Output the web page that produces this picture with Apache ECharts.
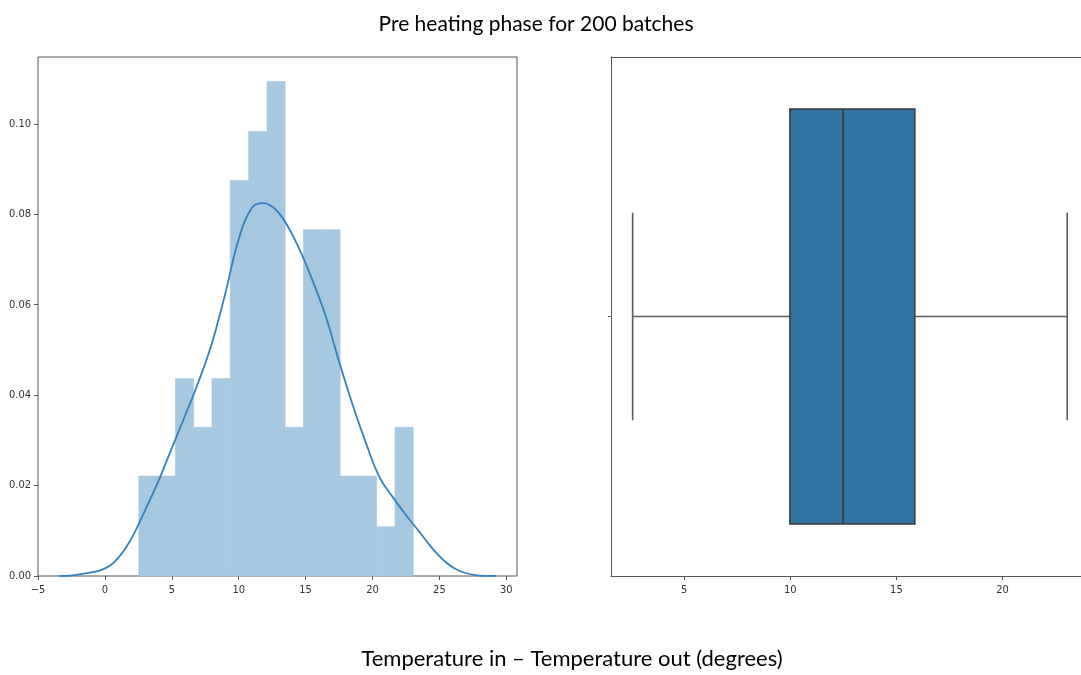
<!DOCTYPE html>
<html><head><meta charset="utf-8">
<script src="https://cdn.jsdelivr.net/npm/echarts@6/dist/echarts.min.js"></script>
<style>html,body{margin:0;padding:0;background:#fff}#c{width:1081px;height:675px}</style>
</head><body><div id="c"></div>
<script>
// ---- data ----
const titleText = 'Pre heating phase for 200 batches';
const xAxisTitle = 'Temperature in \u2013 Temperature out (degrees)';
const binEdges = [2.53, 3.90, 5.27, 6.63, 8.00, 9.37, 10.74, 12.11, 13.47, 14.84, 16.21, 17.58, 18.95, 20.31, 21.68, 23.05];
const binDensity = [0.0221, 0.0221, 0.0437, 0.0329, 0.0437, 0.0875, 0.0983, 0.1094, 0.0329, 0.0766, 0.0766, 0.0221, 0.0221, 0.0109, 0.0329];
const kdeX = [-3.4, -2.6, -1.8, -1.0, -0.3, 0.4, 1.0, 1.6, 2.2, 3.0, 4.0, 5.0, 6.0, 7.0, 8.0, 9.0, 10.0, 11.0, 11.8, 12.6, 13.5, 14.5, 15.5, 16.5, 17.5, 18.5, 19.5, 20.5, 21.5, 22.5, 23.5, 24.5, 25.5, 26.5, 27.7, 29.2];
const kdeY = [0.0000, 0.0001, 0.0004, 0.0008, 0.0013, 0.0023, 0.0040, 0.0064, 0.0095, 0.0145, 0.0210, 0.0283, 0.0355, 0.0430, 0.0515, 0.0625, 0.0745, 0.0815, 0.0825, 0.0815, 0.0782, 0.0725, 0.0655, 0.0575, 0.0475, 0.0380, 0.0295, 0.0220, 0.0175, 0.0135, 0.0098, 0.0060, 0.0030, 0.0011, 0.0002, 0.0000];
const boxStats = [2.57, 9.98, 12.49, 15.87, 23.05]; // min, q1, median, q3, max
const histXTicks = [-5, 0, 5, 10, 15, 20, 25, 30];
const histYTicks = [0, 0.02, 0.04, 0.06, 0.08, 0.10];
const boxXTicks = [5, 10, 15, 20];

const tickFont = "'DejaVu Sans Condensed', 'Liberation Sans Narrow', 'DejaVu Sans', sans-serif";
const frameColor = '#555';
const tickColor = '#555';

const chart = echarts.init(document.getElementById('c'), null, {renderer: 'canvas'});

const histData = binDensity.map((d, i) => [binEdges[i], binEdges[i + 1], d]);
const kdeData = kdeX.map((x, i) => [x, kdeY[i]]);

const axisLabelBase = {color: '#333', fontFamily: tickFont, fontSize: 11};
const frameLine = {show: true, onZero: false, lineStyle: {color: frameColor, width: 1}};

chart.setOption({
  animation: false,
  backgroundColor: '#fff',
  grid: [
    {left: 38, top: 57, width: 479, height: 519, show: true, borderColor: frameColor, borderWidth: 1, backgroundColor: 'transparent'},
    {left: 611, top: 57, right: 0, height: 519, show: false}
  ],
  xAxis: [
    {type: 'value', gridIndex: 0, min: -5, max: 30.8, splitLine: {show: false}, axisLine: {show: false, onZero: false},
     axisTick: {show: true, length: 4, lineStyle: {color: tickColor}, customValues: histXTicks},
     axisLabel: Object.assign({margin: 9, customValues: histXTicks, formatter: v => String(v).replace('-', '\u2212')}, axisLabelBase)},
    {type: 'value', gridIndex: 1, min: 1.55, max: 23.70, splitLine: {show: false}, axisLine: frameLine,
     axisTick: {show: true, length: 4, lineStyle: {color: tickColor}, customValues: boxXTicks},
     axisLabel: Object.assign({margin: 9, customValues: boxXTicks}, axisLabelBase)},
    {type: 'value', gridIndex: 1, position: 'top', min: 1.55, max: 23.70, splitLine: {show: false}, axisLine: frameLine,
     axisTick: {show: false}, axisLabel: {show: false}}
  ],
  yAxis: [
    {type: 'value', gridIndex: 0, min: 0, max: 0.1148, splitLine: {show: false}, axisLine: {show: false, onZero: false},
     axisTick: {show: true, length: 4, lineStyle: {color: tickColor}, customValues: histYTicks},
     axisLabel: Object.assign({margin: 7, customValues: histYTicks, formatter: v => v.toFixed(2)}, axisLabelBase)},
    {type: 'category', gridIndex: 1, data: [''], axisLine: frameLine,
     axisTick: {show: true, alignWithLabel: true, length: 3, lineStyle: {color: tickColor}},
     axisLabel: {show: false}, splitLine: {show: false}}
  ],
  series: [
    {
      type: 'custom', xAxisIndex: 0, yAxisIndex: 0, data: histData, encode: {x: [0, 1], y: 2}, z: 2,
      renderItem: function (params, api) {
        const p0 = api.coord([api.value(0), api.value(2)]);
        const p1 = api.coord([api.value(1), 0]);
        return {type: 'rect', shape: {x: p0[0], y: p0[1], width: p1[0] - p0[0], height: p1[1] - p0[1]},
                style: {fill: '#a6c8e1', stroke: '#a6c8e1', lineWidth: 0.6}};
      }
    },
    {
      type: 'line', xAxisIndex: 0, yAxisIndex: 0, data: kdeData, smooth: 0.4, symbol: 'none', z: 3,
      lineStyle: {color: '#3581be', width: 1.8}
    },
    {
      type: 'custom', xAxisIndex: 1, yAxisIndex: 1, data: [[0].concat(boxStats)], encode: {x: [1, 2, 3, 4, 5], y: 0}, z: 3,
      renderItem: function (params, api) {
        const cat = api.value(0);
        const band = api.size([0, 1])[1];
        const pMin = api.coord([api.value(1), cat]);
        const pQ1 = api.coord([api.value(2), cat]);
        const pMed = api.coord([api.value(3), cat]);
        const pQ3 = api.coord([api.value(4), cat]);
        const pMax = api.coord([api.value(5), cat]);
        const cy = pMed[1];
        const hb = band * 0.4, hc = band * 0.2;
        const edge = '#3a3a3a', wcol = '#5e5e5e';
        return {type: 'group', children: [
          {type: 'line', shape: {x1: pMin[0], y1: cy, x2: pQ1[0], y2: cy}, style: {stroke: wcol, lineWidth: 1.6}},
          {type: 'line', shape: {x1: pQ3[0], y1: cy, x2: pMax[0], y2: cy}, style: {stroke: wcol, lineWidth: 1.6}},
          {type: 'line', shape: {x1: pMin[0], y1: cy - hc, x2: pMin[0], y2: cy + hc}, style: {stroke: wcol, lineWidth: 1.6}},
          {type: 'line', shape: {x1: pMax[0], y1: cy - hc, x2: pMax[0], y2: cy + hc}, style: {stroke: wcol, lineWidth: 1.6}},
          {type: 'rect', shape: {x: pQ1[0], y: cy - hb, width: pQ3[0] - pQ1[0], height: 2 * hb},
           style: {fill: '#3274a1', stroke: edge, lineWidth: 1.5}},
          {type: 'line', shape: {x1: pMed[0], y1: cy - hb, x2: pMed[0], y2: cy + hb}, style: {stroke: edge, lineWidth: 1.6}}
        ]};
      }
    }
  ],
  graphic: [
    {type: 'text', x: 536, y: 24, style: {text: titleText, fill: '#000', font: "21px Lato, 'Open Sans', sans-serif", textAlign: 'center', textVerticalAlign: 'middle'}},
    {type: 'text', x: 572, y: 659, style: {text: xAxisTitle, fill: '#000', font: "22px Lato, 'Open Sans', sans-serif", textAlign: 'center', textVerticalAlign: 'middle'}}
  ]
});
</script>
</body></html>
